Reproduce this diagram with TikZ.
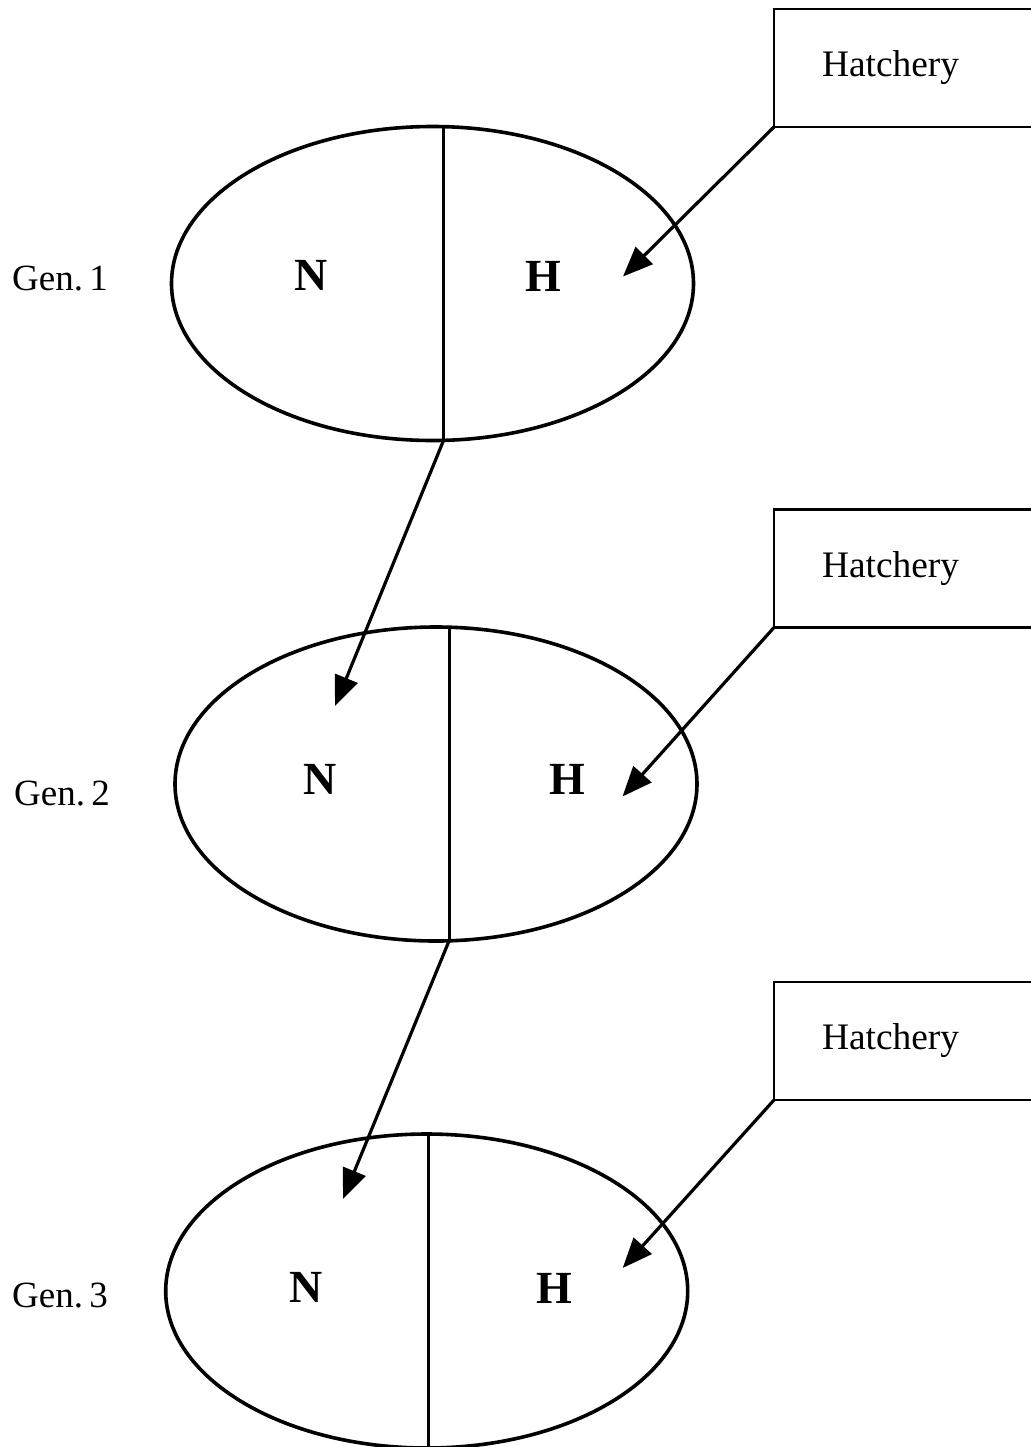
\documentclass[tikz,border=0pt]{standalone}
\usepackage{fontspec}
\setmainfont{Liberation Serif}
\usetikzlibrary{shapes.geometric, arrows.meta, calc}

\begin{document}
\begin{tikzpicture}[x=0.5pt, y=-0.5pt,
    pop/.style={draw, ellipse, line width=1.8pt, minimum width=261pt, minimum height=157pt, inner sep=0pt, outer sep=0pt},
    hatchbox/.style={draw, rectangle, line width=1.4pt, anchor=north west, minimum height=59pt, text width=140pt, inner xsep=24pt, outer sep=0pt, align=left, font=\fontsize{18.7}{20}\selectfont},
    gen/.style={font=\fontsize{18.5}{20}\selectfont},
    half/.style={font=\bfseries\fontsize{23}{24}\selectfont},
    split/.style={line width=1.5pt},
    flow/.style={line width=1.6pt, -{Triangle[length=15pt, width=12pt]}}]

    \useasboundingbox (0,0) rectangle (1030,1447);

    % generations
    \node[pop] (pop1) at (432.5,283.5) {};
    \node[pop] (pop2) at (436,784) {};
    \node[pop] (pop3) at (426.7,1291) {};

    \node[gen] (gen1) at (60,279) {Gen.\,1};
    \node[gen] (gen2) at (62,794) {Gen.\,2};
    \node[gen] (gen3) at (60,1295) {Gen.\,3};

    \node[half] (n1) at (311,275) {N};
    \node[half] (h1) at (543,276) {H};
    \node[half] (n2) at (320,779) {N};
    \node[half] (h2) at (567,779) {H};
    \node[half] (n3) at (306.5,1287) {N};
    \node[half] (h3) at (554,1288) {H};

    % dividing lines
    \coordinate (cut1top) at ($(pop1.north)+(11,0)$);
    \coordinate (cut1bot) at ($(pop1.south)+(11,0)$);
    \coordinate (cut2top) at ($(pop2.north)+(13,0)$);
    \coordinate (cut2bot) at ($(pop2.south)+(13,0)$);
    \coordinate (cut3top) at ($(pop3.north)+(1.3,0)$);
    \coordinate (cut3bot) at ($(pop3.south)+(1.3,0)$);
    \draw[split] (cut1top) -- (cut1bot);
    \draw[split] (cut2top) -- (cut2bot);
    \draw[split] (cut3top) -- (cut3bot);

    % hatchery input
    \node[hatchbox] (hatch1) at (774,9) {Hatchery};
    \node[hatchbox] (hatch2) at (774,509.5) {Hatchery};
    \node[hatchbox] (hatch3) at (774,982) {Hatchery};

    \coordinate (tiph1) at (623,276.5);
    \coordinate (tiph2) at (622.5,796.5);
    \coordinate (tiph3) at (622.7,1268);
    \coordinate (tipn2) at (335,706);
    \coordinate (tipn3) at (343,1199);

    \draw[flow] (hatch1.south west) -- (tiph1);
    \draw[flow] (hatch2.south west) -- (tiph2);
    \draw[flow] (hatch3.south west) -- (tiph3);
    \draw[flow] (cut1bot) -- (tipn2);
    \draw[flow] (cut2bot) -- (tipn3);
\end{tikzpicture}
\end{document}
